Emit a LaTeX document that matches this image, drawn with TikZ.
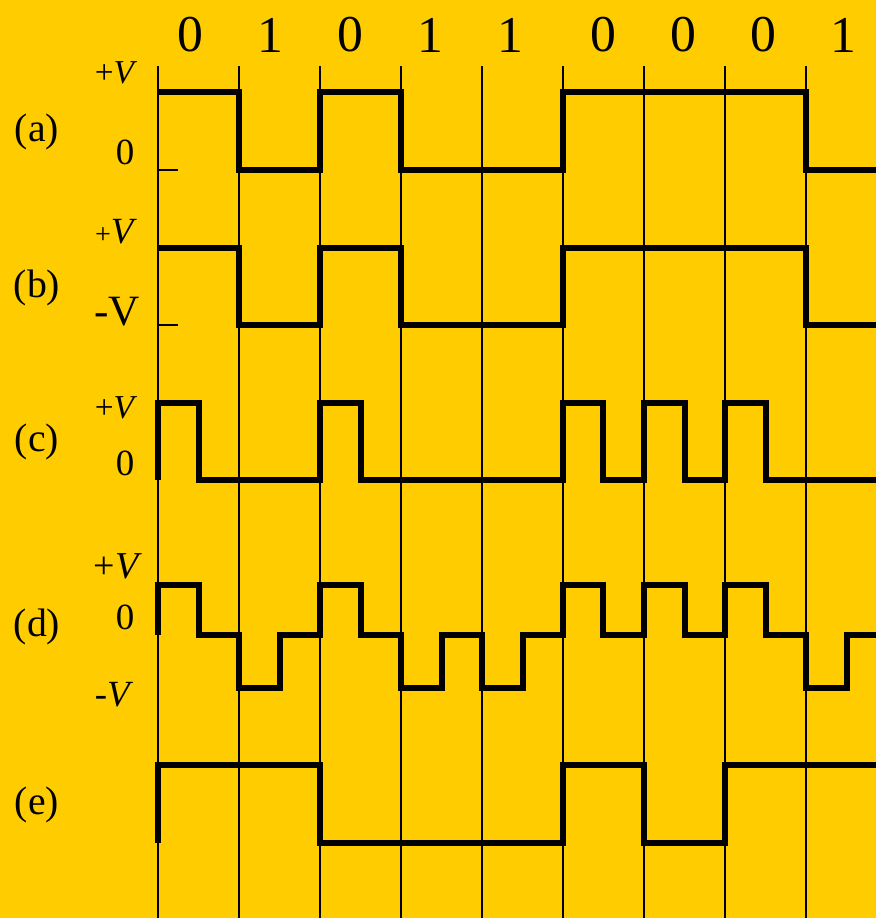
\documentclass[tikz,border=0pt]{standalone}
\usepackage{fontspec}
\setmainfont{Liberation Serif}
\usetikzlibrary{positioning}

\definecolor{signalbg}{RGB}{255,204,0}

\tikzset{
  wave/.style={line width=1.45pt, line join=miter},
  bitline/.style={line width=0.3pt},
  zeromark/.style={line width=0.4pt},
  bitlabel/.style={font=\fontsize{14.7}{16}\selectfont, inner sep=0pt},
  rowlabel/.style={font=\fontsize{11.3}{13}\selectfont, inner sep=0pt},
  levellabel/.style={font=\fontsize{10.5}{12}\selectfont, inner sep=0pt}
}

\begin{document}
\begin{tikzpicture}[x=0.01cm, y=-0.01cm]

\fill[signalbg] (0,0) rectangle (876,918);
\useasboundingbox (0,0) rectangle (876,918);

% bit cells
\foreach \x in {158,239,320,401,482,563,644,725,806}
\draw[bitline] (\x,66) -- (\x,918);

\foreach \b/\x [count=\i] in {0/190,1/270,0/350,1/430,1/510,0/603,0/683,0/763,1/843}
\node[bitlabel] (bit\i) at (\x,35) {\b};

% (a)
\node[rowlabel] (rowA) at (37,132) {(a)};
\node[levellabel, font=\fontsize{9.5}{11}\selectfont] (posA) at (116,73) {+\textit{V}};
\node[levellabel] (zeroA) at (125,152) {0};
\draw[zeromark] (158,170) -- (178,170);
\draw[wave] (158,92) -- (239,92) -- (239,170) -- (320,170) -- (320,92) -- (401,92)
  -- (401,170) -- (563,170) -- (563,92) -- (806,92) -- (806,170) -- (876,170);

% (b)
\node[rowlabel] (rowB) at (37,288) {(b)};
\node[levellabel] (posB) at (116,232) {{\fontsize{8}{9}\selectfont+}\textit{V}};
\node[levellabel, font=\fontsize{12.3}{14}\selectfont] (negB) at (117,312) {-V};
\draw[zeromark] (158,325) -- (178,325);
\draw[wave] (158,248) -- (239,248) -- (239,325) -- (320,325) -- (320,248) -- (401,248)
  -- (401,325) -- (563,325) -- (563,248) -- (806,248) -- (806,325) -- (876,325);

% (c)
\node[rowlabel] (rowC) at (37,442) {(c)};
\node[levellabel, font=\fontsize{9.5}{11}\selectfont] (posC) at (116,408) {+\textit{V}};
\node[levellabel] (zeroC) at (125,463) {0};
\draw[wave] (158,480) -- (158,403) -- (199,403) -- (199,480) -- (320,480) -- (320,403)
  -- (361,403) -- (361,480) -- (563,480) -- (563,403) -- (603,403) -- (603,480)
  -- (644,480) -- (644,403) -- (685,403) -- (685,480) -- (725,480) -- (725,403)
  -- (766,403) -- (766,480) -- (876,480);

% (d)
\node[rowlabel] (rowD) at (37,627) {(d)};
\node[levellabel, font=\fontsize{10.8}{12}\selectfont] (posD) at (118,566) {+\textit{V}};
\node[levellabel] (zeroD) at (125,617) {0};
\node[levellabel] (negD) at (114,695) {-\textit{V}};
\draw[wave] (158,635) -- (158,585) -- (199,585) -- (199,635) -- (239,635) -- (239,688)
  -- (280,688) -- (280,635) -- (320,635) -- (320,585) -- (361,585) -- (361,635)
  -- (401,635) -- (401,688) -- (442,688) -- (442,635) -- (482,635) -- (482,688)
  -- (523,688) -- (523,635) -- (563,635) -- (563,585) -- (603,585) -- (603,635)
  -- (644,635) -- (644,585) -- (685,585) -- (685,635) -- (725,635) -- (725,585)
  -- (766,585) -- (766,635) -- (806,635) -- (806,688) -- (847,688) -- (847,635)
  -- (876,635);

% (e)
\node[rowlabel] (rowE) at (37,805) {(e)};
\draw[wave] (158,843) -- (158,765) -- (320,765) -- (320,843) -- (563,843) -- (563,765)
  -- (644,765) -- (644,843) -- (725,843) -- (725,765) -- (876,765);

\end{tikzpicture}
\end{document}
